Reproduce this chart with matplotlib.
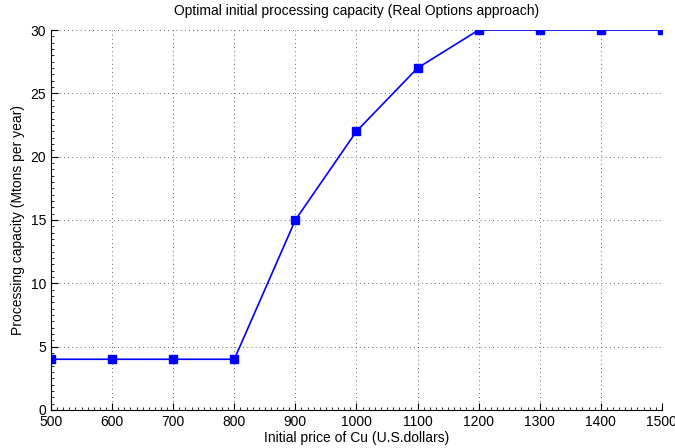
import matplotlib
matplotlib.use('Agg')
import matplotlib.pyplot as plt
from matplotlib.ticker import MultipleLocator

plt.rcParams['font.family'] = ['Liberation Sans', 'DejaVu Sans']

# data
price = [500, 600, 700, 800, 900, 1000, 1100, 1200, 1300, 1400, 1500]
capacity = [4, 4, 4, 4, 15, 22, 27, 30, 30, 30, 30]

fig = plt.figure(figsize=(6.75, 4.48), dpi=100)
ax = fig.add_axes([0.0756, 0.085, 0.905, 0.848])

ax.plot(price, capacity, color='#0000ff', linewidth=1.2, marker='s',
        markersize=6, markeredgecolor='#0000ff', markerfacecolor='#0000ff')

ax.set_xlim(500, 1500)
ax.set_ylim(0, 30)
ax.xaxis.set_major_locator(MultipleLocator(100))
ax.xaxis.set_minor_locator(MultipleLocator(10))
ax.yaxis.set_major_locator(MultipleLocator(5))
ax.yaxis.set_minor_locator(MultipleLocator(0.5))

ax.spines['top'].set_visible(False)
ax.spines['right'].set_visible(False)
ax.tick_params(which='both', direction='in', labelsize=10)
ax.tick_params(which='major', length=5, width=0.8)
ax.tick_params(which='minor', length=2.5, width=0.6)
ax.tick_params(axis='x', pad=4)

ax.grid(True, which='major', linestyle=(0, (1, 4)), color='#333333', linewidth=0.6)

ax.set_xlabel('Initial price of Cu (U.S.dollars)', fontsize=10, labelpad=1)
ax.set_ylabel('Processing capacity (Mtons per year)', fontsize=10, labelpad=4)
ax.set_title('Optimal initial processing capacity (Real Options approach)', fontsize=10, pad=11)

fig.savefig('out.png', dpi=100)
